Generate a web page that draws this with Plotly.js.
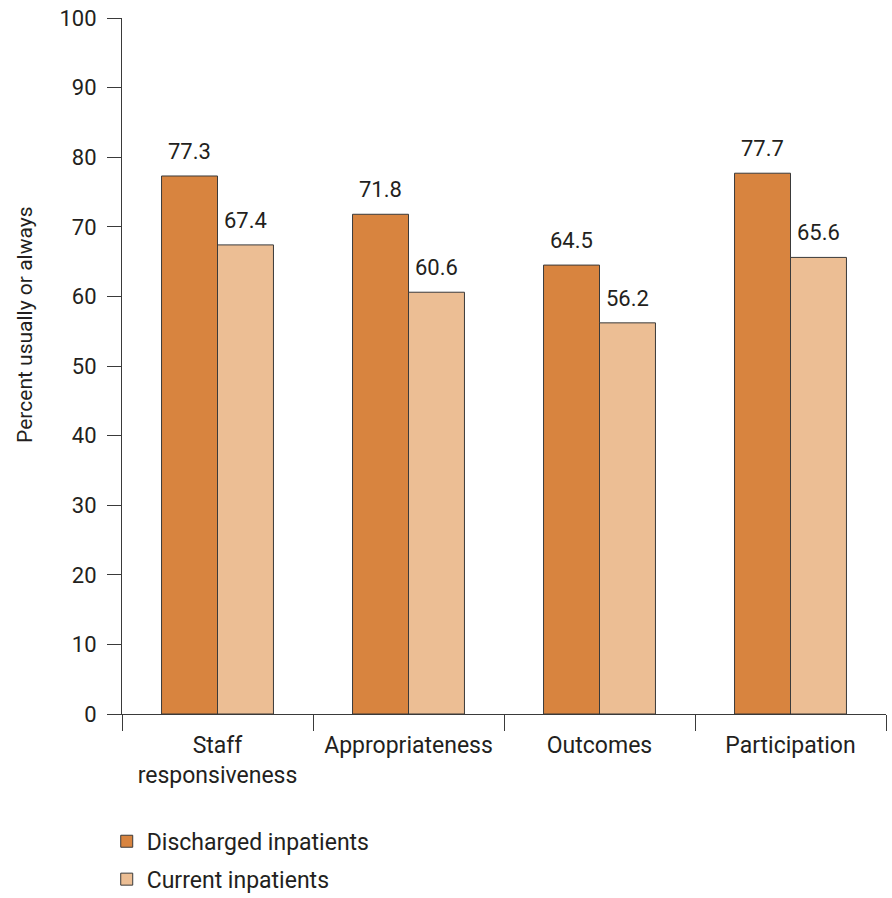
<!DOCTYPE html>
<html><head><meta charset="utf-8">
<script src="https://cdn.plot.ly/plotly-3.0.1.min.js"></script>
<style>html,body{margin:0;padding:0;background:#fff}#c{width:892px;height:898px}</style>
</head><body><div id="c"></div>
<script>
const categories = ["Staff<br>responsiveness", "Appropriateness", "Outcomes", "Participation"];
const discharged = [77.3, 71.8, 64.5, 77.7];
const current = [67.4, 60.6, 56.2, 65.6];
const seriesNames = ["Discharged inpatients", "Current inpatients"];
const yTicks = [0,10,20,30,40,50,60,70,80,90,100];
const yTitle = "Percent usually or always";

const FONT = "Roboto, 'Liberation Sans', sans-serif";
const TXT = "#231f20";
const colD = "#d8843f", colC = "#ecbe94";
const barLine = {color: "#3a3a3a", width: 1};

const traces = [
  {type: "bar", name: seriesNames[0], x: categories, y: discharged, legendgroup: "d",
   marker: {color: colD, line: barLine}},
  {type: "bar", name: seriesNames[1], x: categories, y: current, legendgroup: "c",
   marker: {color: colC, line: barLine}}
];

const bw = 0.293;
const annotations = [];
[discharged, current].forEach((arr, s) => {
  arr.forEach((v, i) => {
    annotations.push({x: i + (s === 0 ? -bw/2 : bw/2), y: v, xref: "x", yref: "y",
      text: v.toFixed(1), showarrow: false, yanchor: "bottom", yshift: 10,
      font: {family: FONT, size: 22, color: TXT}});
  });
});
annotations.push({text: yTitle, xref: "paper", yref: "paper", x: -0.127, y: 0.559,
  xanchor: "center", yanchor: "middle", textangle: -90, showarrow: false,
  font: {family: FONT, size: 21, color: TXT}});

const layout = {
  width: 892, height: 898,
  margin: {l: 122, r: 6, t: 18, b: 184, autoexpand: false},
  paper_bgcolor: "#fff", plot_bgcolor: "#fff",
  barmode: "group", bargap: 0.414, bargroupgap: 0,
  font: {family: FONT, size: 22, color: TXT},
  xaxis: {type: "category", showgrid: false, zeroline: false, automargin: false,
    showline: true, linecolor: "#3a3a3a", linewidth: 1,
    ticks: "outside", tickson: "boundaries", ticklen: 16, tickcolor: "#3a3a3a", tickwidth: 1,
    ticklabelstandoff: 10,
    tickfont: {family: FONT, size: 23, color: TXT}, fixedrange: true},
  yaxis: {range: [0, 100], tickvals: yTicks, showgrid: false, zeroline: false, automargin: false,
    showline: true, linecolor: "#3a3a3a", linewidth: 1,
    ticks: "outside", ticklen: 14, tickcolor: "#3a3a3a", tickwidth: 1,
    ticklabelstandoff: 6,
    tickfont: {family: FONT, size: 22, color: TXT}},
  legend: {orientation: "v", x: -0.02, xanchor: "left", y: -0.152, yanchor: "top",
    font: {family: FONT, size: 23, color: TXT}, itemwidth: 30, tracegroupgap: 5},
  showlegend: true,
  annotations: annotations
};

Plotly.newPlot("c", traces, layout, {displayModeBar: false, staticPlot: true});
</script></body></html>
